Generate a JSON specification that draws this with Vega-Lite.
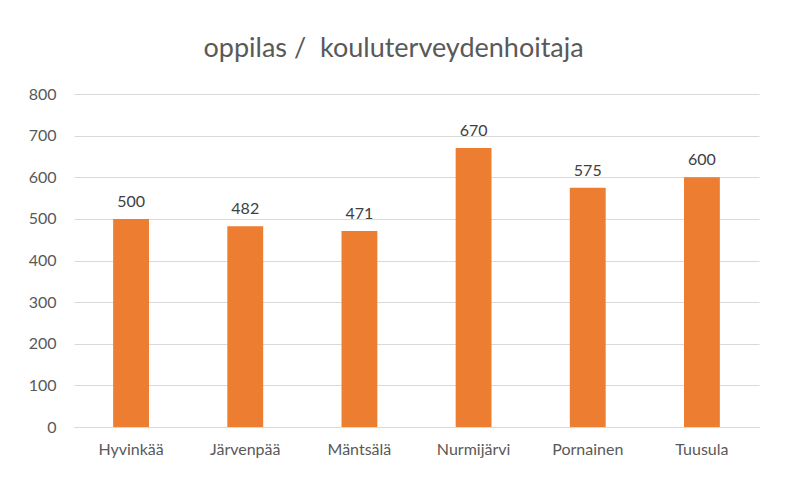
{
  "$schema": "https://vega.github.io/schema/vega-lite/v6.json",
  "width": 685,
  "height": 333,
  "autosize": {"type": "none"},
  "padding": {"left": 74, "top": 94, "right": 38, "bottom": 62},
  "background": "white",
  "title": {
    "text": "oppilas /\u00a0 kouluterveydenhoitaja",
    "font": "Lato",
    "fontSize": 27,
    "fontWeight": "normal",
    "color": "#595959",
    "anchor": "middle",
    "frame": "bounds",
    "baseline": "alphabetic",
    "offset": 2
  },
  "data": {
    "values": [
      {"kunta": "Hyvinkää", "arvo": 500},
      {"kunta": "Järvenpää", "arvo": 482},
      {"kunta": "Mäntsälä", "arvo": 471},
      {"kunta": "Nurmijärvi", "arvo": 670},
      {"kunta": "Pornainen", "arvo": 575},
      {"kunta": "Tuusula", "arvo": 600}
    ]
  },
  "config": {
    "view": {"stroke": null},
    "font": "Lato"
  },
  "encoding": {
    "x": {
      "field": "kunta",
      "type": "nominal",
      "sort": null,
      "title": null,
      "scale": {"paddingInner": 0.686, "paddingOuter": 0.343},
      "axis": {
        "labelAngle": 0,
        "labelFont": "Lato",
        "labelFontSize": 16,
        "labelColor": "#595959",
        "labelPadding": 14,
        "ticks": false,
        "domainColor": "#d9d9d9",
        "domainWidth": 1
      }
    },
    "y": {
      "field": "arvo",
      "type": "quantitative",
      "title": null,
      "scale": {"domain": [0, 800]},
      "axis": {
        "values": [0, 100, 200, 300, 400, 500, 600, 700, 800],
        "labelFont": "Lato",
        "labelFontSize": 16,
        "labelColor": "#595959",
        "labelPadding": 18,
        "ticks": false,
        "domain": false,
        "gridColor": "#d9d9d9",
        "gridWidth": 1
      }
    }
  },
  "layer": [
    {"mark": {"type": "bar", "color": "#ED7D31"}},
    {
      "mark": {"type": "text", "baseline": "alphabetic", "dy": -12, "font": "Lato", "fontSize": 16, "color": "#404040"},
      "encoding": {"text": {"field": "arvo", "type": "quantitative"}}
    }
  ]
}
